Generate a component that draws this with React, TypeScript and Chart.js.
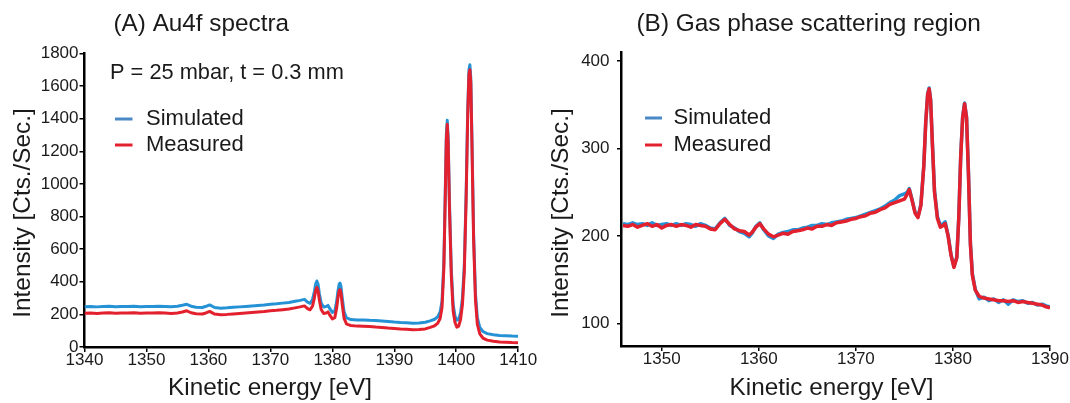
import React, { useEffect, useRef } from "react";
import { Chart, registerables } from "chart.js";

Chart.register(...registerables);

const FONT = '"Liberation Sans", Arial, Helvetica, sans-serif';
const TEXT = "#1a1a1a";
const BLUE = "#2692d6";
const BLUE_LEGEND = "#4a88c6";
const RED = "#e3202d";

// ---------- Panel A: Au4f spectra ----------
const leftEnergy = [
  1340, 1341, 1342, 1343, 1344, 1345, 1346, 1347, 1348, 1349,
  1350, 1351, 1352, 1353, 1354, 1355, 1355.8, 1356.5, 1357.2, 1358,
  1359, 1359.5, 1360.2, 1361, 1362, 1363, 1364, 1365, 1366, 1367,
  1368, 1369, 1370, 1371, 1372, 1373, 1374, 1374.8, 1375.5, 1376,
  1376.4, 1376.8, 1377.1, 1377.3, 1377.5, 1377.7, 1377.9, 1378.2, 1378.6, 1379,
  1379.3, 1379.6, 1380, 1380.4, 1380.7, 1380.9, 1381.1, 1381.25, 1381.4, 1381.6,
  1381.9, 1382.3, 1383, 1384, 1385, 1386, 1387, 1388, 1389, 1390,
  1391, 1392, 1393, 1394, 1395, 1395.8, 1396.5, 1397, 1397.4, 1397.7,
  1398, 1398.2, 1398.4, 1398.55, 1398.7, 1398.9, 1399.2, 1399.5, 1399.8, 1400.1,
  1400.4, 1400.7, 1401, 1401.3, 1401.6, 1401.85, 1402.05, 1402.2, 1402.35, 1402.55,
  1402.8, 1403.1, 1403.4, 1403.8, 1404.3, 1405, 1406, 1407, 1408, 1409,
  1410,
];
const leftSimulated = [
  247, 249, 246, 248, 250, 247, 249, 248, 250, 247,
  249, 248, 250, 249, 247, 250, 256, 262, 250, 244,
  242, 248, 258, 242, 238, 240, 243, 246, 249, 252,
  255, 258, 262, 265, 269, 273, 280, 286, 292, 275,
  268, 290, 340, 385, 405, 385, 330, 270, 245, 248,
  255, 235, 212, 220, 280, 340, 385, 392, 370, 300,
  215, 178, 168, 165, 166, 164, 163, 160, 157, 153,
  150, 149, 146, 147, 152, 160, 170, 185, 215, 280,
  520, 900, 1300, 1390, 1280, 900, 480, 260, 190, 165,
  170, 210, 300, 500, 950, 1450, 1700, 1730, 1650, 1250,
  700, 330, 180, 120, 95, 82, 75, 71, 69, 67,
  66,
];
const leftMeasured = [
  207, 209, 206, 208, 210, 207, 209, 208, 210, 207,
  209, 208, 210, 208, 206, 209, 215, 222, 210, 204,
  202, 207, 218, 202, 198, 200, 203, 206, 209, 212,
  215, 218, 222, 225, 229, 233, 240, 246, 252, 235,
  228, 250, 300, 345, 365, 345, 290, 230, 205, 208,
  215, 195, 172, 180, 240, 300, 345, 352, 330, 260,
  175, 140, 132, 128, 127, 125, 122, 120, 116, 113,
  110, 109, 106, 107, 111, 120, 130, 145, 175, 240,
  480, 860, 1270, 1365, 1250, 860, 440, 220, 150, 122,
  128, 170, 260, 460, 910, 1420, 1670, 1700, 1620, 1210,
  660, 290, 140, 80, 55, 42, 35, 31, 29, 27,
  26,
];
const leftXTicks = [1340, 1350, 1360, 1370, 1380, 1390, 1400, 1410];
const leftYTicks = [0, 200, 400, 600, 800, 1000, 1200, 1400, 1600, 1800];

// ---------- Panel B: gas phase scattering region ----------
const rightEnergy = [
  1346, 1346.5, 1347, 1347.5, 1348, 1348.5, 1349, 1349.5, 1350, 1350.5,
  1351, 1351.5, 1352, 1352.5, 1353, 1353.5, 1354, 1354.5, 1355, 1355.5,
  1356, 1356.5, 1357, 1357.5, 1358, 1358.5, 1359, 1359.3, 1359.7, 1360.1,
  1360.5, 1361, 1361.5, 1362, 1362.5, 1363, 1363.5, 1364, 1364.5, 1365,
  1365.5, 1366, 1366.5, 1367, 1367.5, 1368, 1368.5, 1369, 1369.5, 1370,
  1370.5, 1371, 1371.5, 1372, 1372.5, 1373, 1373.5, 1374, 1374.5, 1375,
  1375.3, 1375.5, 1375.8, 1376.1, 1376.4, 1376.7, 1377, 1377.2, 1377.4, 1377.55,
  1377.7, 1377.9, 1378.1, 1378.4, 1378.7, 1379, 1379.2, 1379.5, 1379.8, 1380.1,
  1380.4, 1380.6, 1380.8, 1381, 1381.2, 1381.4, 1381.6, 1381.8, 1382, 1382.3,
  1382.7, 1383.2, 1383.7, 1384.2, 1384.7, 1385.2, 1385.7, 1386.2, 1386.7, 1387.2,
  1387.7, 1388.2, 1388.7, 1389.2, 1389.6, 1390,
];
const rightSimulated = [
  214, 213, 215, 213, 214, 212, 215, 212, 213, 214,
  212, 214, 212, 214, 213, 211, 214, 212, 209, 208,
  215, 220, 212, 209, 205, 203, 199, 203, 211, 215,
  207, 200, 197, 202, 204, 205, 207, 207, 209, 210,
  212, 212, 214, 213, 215, 216, 217, 219, 220, 221,
  223, 225, 227, 229, 231, 234, 238, 241, 246, 248,
  250, 254, 241, 227, 222, 236, 281, 331, 363, 369,
  356, 302, 252, 222, 212, 214, 216, 201, 179, 165,
  176, 221, 291, 336, 352, 336, 272, 192, 157, 139,
  128, 130, 126, 128, 124, 127, 122, 127, 125, 126,
  123, 124, 121, 122, 120, 119,
];
const rightMeasured = [
  212, 211, 213, 210, 212, 214, 211, 213, 209, 212,
  213, 211, 213, 212, 210, 213, 212, 211, 208, 207,
  214, 219, 213, 208, 206, 205, 201, 204, 210, 214,
  208, 202, 199, 201, 203, 202, 205, 206, 207, 209,
  208, 211, 211, 213, 212, 215, 216, 217, 219, 220,
  222, 223, 226, 227, 230, 232, 236, 238, 240, 242,
  248, 253, 240, 226, 221, 235, 280, 330, 362, 368,
  355, 300, 250, 220, 210, 212, 214, 200, 178, 164,
  175, 220, 290, 335, 351, 335, 270, 190, 155, 138,
  131, 129, 128, 127, 126, 126, 125, 126, 124, 125,
  124, 123, 122, 121, 119, 118,
];
const rightXTicks = [1350, 1360, 1370, 1380, 1390];
const rightYTicks = [100, 200, 300, 400];

const seriesNames = ["Simulated", "Measured"];

type Item =
  | { kind: "text"; text: string; x: number; y: number; size: number; align?: CanvasTextAlign; rotate?: number }
  | { kind: "line"; x1: number; x2: number; y: number; color: string; width: number };

function makeOverlay(items: Item[]) {
  return {
    id: "textOverlay",
    afterDraw(chart: any) {
      const ctx: CanvasRenderingContext2D = chart.ctx;
      for (const it of items) {
        ctx.save();
        if (it.kind === "line") {
          ctx.strokeStyle = it.color;
          ctx.lineWidth = it.width;
          ctx.beginPath();
          ctx.moveTo(it.x1, it.y);
          ctx.lineTo(it.x2, it.y);
          ctx.stroke();
        } else {
          ctx.font = `${it.size}px ${FONT}`;
          ctx.fillStyle = TEXT;
          ctx.textAlign = it.align || "left";
          ctx.textBaseline = "middle";
          ctx.translate(it.x, it.y);
          if (it.rotate) ctx.rotate(it.rotate);
          ctx.fillText(it.text, 0, 0);
        }
        ctx.restore();
      }
    },
  };
}

function axis(min: number, max: number, ticks: number[], fit: (s: any) => void, tickLen: number, pad: number) {
  return {
    type: "linear" as const,
    min,
    max,
    afterBuildTicks: (s: any) => {
      s.ticks = ticks.map((v) => ({ value: v }));
    },
    afterFit: fit,
    grid: { drawOnChartArea: false, drawTicks: true, tickLength: tickLen, color: "#000", lineWidth: 1.5 },
    border: { display: true, color: "#000", width: 2.5 },
    ticks: {
      color: TEXT,
      font: { family: FONT, size: 17, lineHeight: 1 },
      padding: pad,
      maxRotation: 0,
      autoSkip: false,
      callback: (v: any) => String(v),
    },
  };
}

type Frame = { top: number; bottom: number; left: number; right: number; width: number; yPad: number; yTickLen: number };

function buildConfig(
  energy: number[],
  sim: number[],
  meas: number[],
  lineWidth: number,
  xr: [number, number],
  yr: [number, number],
  xTicks: number[],
  yTicks: number[],
  f: Frame,
  items: Item[]
) {
  return {
    type: "line" as const,
    data: {
      datasets: [
        {
          label: seriesNames[0],
          data: energy.map((x, i) => ({ x, y: sim[i] })),
          borderColor: BLUE,
          borderWidth: lineWidth,
          pointRadius: 0,
          tension: 0,
          borderJoinStyle: "round" as const,
          order: 2,
        },
        {
          label: seriesNames[1],
          data: energy.map((x, i) => ({ x, y: meas[i] })),
          borderColor: RED,
          borderWidth: lineWidth,
          pointRadius: 0,
          tension: 0,
          borderJoinStyle: "round" as const,
          order: 1,
        },
      ],
    },
    options: {
      responsive: false,
      animation: false as const,
      devicePixelRatio: 1,
      events: [],
      layout: { padding: { top: f.top, right: f.width - f.right, left: 0, bottom: 0 } },
      plugins: { legend: { display: false }, title: { display: false }, tooltip: { enabled: false } },
      scales: {
        x: axis(xr[0], xr[1], xTicks, (s: any) => { s.height = 403 - f.bottom; }, 5, 0),
        y: axis(yr[0], yr[1], yTicks, (s: any) => { s.width = f.left; }, f.yTickLen, f.yPad),
      },
    },
    plugins: [makeOverlay(items)],
  };
}

const leftItems: Item[] = [
  { kind: "text", text: "(A) Au4f spectra", x: 113.5, y: 24, size: 24.3 },
  { kind: "text", text: "P = 25 mbar, t = 0.3 mm", x: 110, y: 73, size: 21.8 },
  { kind: "line", x1: 115, x2: 132.5, y: 119, color: BLUE_LEGEND, width: 3 },
  { kind: "text", text: seriesNames[0], x: 146, y: 119, size: 22 },
  { kind: "line", x1: 115, x2: 132.5, y: 145, color: RED, width: 3 },
  { kind: "text", text: seriesNames[1], x: 146, y: 145, size: 22 },
  { kind: "text", text: "Kinetic energy [eV]", x: 270, y: 388, size: 24.3, align: "center" },
  { kind: "text", text: "Intensity [Cts./Sec.]", x: 23.5, y: 213, size: 24.3, align: "center", rotate: -Math.PI / 2 },
];

const rightItems: Item[] = [
  { kind: "text", text: "(B) Gas phase scattering region", x: 96.5, y: 24, size: 24.4 },
  { kind: "line", x1: 105, x2: 122, y: 118, color: BLUE_LEGEND, width: 3 },
  { kind: "text", text: seriesNames[0], x: 133.5, y: 118, size: 22 },
  { kind: "line", x1: 105, x2: 122, y: 145, color: RED, width: 3 },
  { kind: "text", text: seriesNames[1], x: 133.5, y: 145, size: 22 },
  { kind: "text", text: "Kinetic energy [eV]", x: 291.5, y: 388, size: 24.3, align: "center" },
  { kind: "text", text: "Intensity [Cts./Sec.]", x: 21.5, y: 213, size: 24.3, align: "center", rotate: -Math.PI / 2 },
];

const leftFrame: Frame = { top: 53.4, bottom: 347, left: 84.5, right: 518.2, width: 540, yPad: 1, yTickLen: 5 };
const rightFrame: Frame = { top: 52.4, bottom: 346, left: 81, right: 510, width: 530, yPad: 7.5, yTickLen: 4 };

export default function App() {
  const leftRef = useRef<HTMLCanvasElement | null>(null);
  const rightRef = useRef<HTMLCanvasElement | null>(null);

  useEffect(() => {
    const left = new Chart(
      leftRef.current as HTMLCanvasElement,
      buildConfig(leftEnergy, leftSimulated, leftMeasured, 3, [1340, 1410], [0, 1800], leftXTicks, leftYTicks, leftFrame, leftItems) as any
    );
    const right = new Chart(
      rightRef.current as HTMLCanvasElement,
      buildConfig(rightEnergy, rightSimulated, rightMeasured, 3.5, [1345.8, 1390], [74.2, 409.7], rightXTicks, rightYTicks, rightFrame, rightItems) as any
    );
    return () => {
      left.destroy();
      right.destroy();
    };
  }, []);

  return (
    <div style={{ position: "fixed", left: 0, top: 0, width: 1070, height: 403, background: "#fff" }}>
      <canvas ref={leftRef} width={540} height={403} style={{ position: "absolute", left: 0, top: 0, width: 540, height: 403 }} />
      <canvas ref={rightRef} width={530} height={403} style={{ position: "absolute", left: 540, top: 0, width: 530, height: 403 }} />
    </div>
  );
}
